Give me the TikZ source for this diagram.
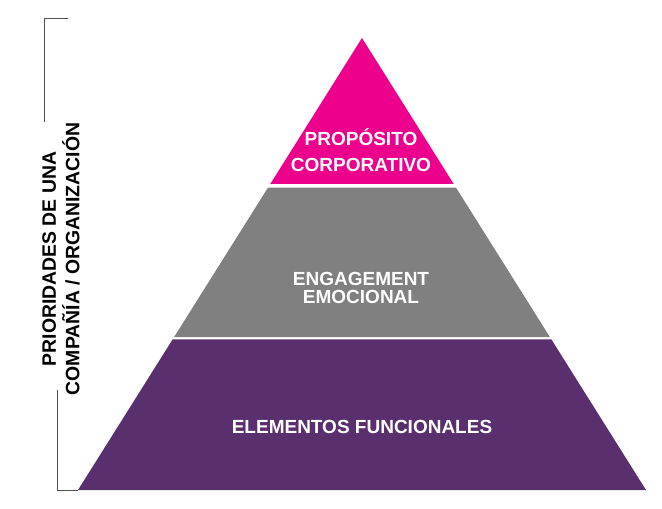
\documentclass[tikz,border=0pt]{standalone}
\usepackage{fontspec}
\setsansfont{Liberation Sans}
\usepackage{xcolor}
\usetikzlibrary{calc, math}
\definecolor{mymagenta}{RGB}{236,0,140}
\definecolor{mygray}{RGB}{128,128,128}
\definecolor{mypurple}{RGB}{90,47,110}
\definecolor{mybracket}{RGB}{80,80,80}

\begin{document}
\begin{tikzpicture}[x=1pt, y=-1pt,
  layertext/.style={text=white, align=center, font=\sffamily\bfseries\fontsize{19}{18.5}\selectfont},
  bracketline/.style={draw=mybracket, line width=1pt}]
\tikzmath{
\H=452;
\ta=(184-38)/\H; \tb=(187.5-38)/\H;
\tc=(337-38)/\H; \td=(339.5-38)/\H;
}
\useasboundingbox (0,0) rectangle (662,509);

\coordinate (apex) at (362,38);
\coordinate (bl) at (78,490);
\coordinate (br) at (646,490);

% layers
\fill[mymagenta] (apex) -- ($(apex)!\ta!(bl)$) -- ($(apex)!\ta!(br)$) -- cycle;
\fill[mygray] ($(apex)!\tb!(bl)$) -- ($(apex)!\tc!(bl)$) -- ($(apex)!\tc!(br)$) -- ($(apex)!\tb!(br)$) -- cycle;
\fill[mypurple] ($(apex)!\td!(bl)$) -- (bl) -- (br) -- ($(apex)!\td!(br)$) -- cycle;

\node[layertext, font=\sffamily\bfseries\fontsize{19}{26}\selectfont] (proposito) at (361,150) {PROPÓSITO\\CORPORATIVO};
\node[layertext] (engagement) at (361,288) {ENGAGEMENT\\EMOCIONAL};
\node[layertext] (funcionales) at (362,427) {ELEMENTOS FUNCIONALES};

% bracket
\coordinate (topend) at (68,18);
\coordinate (topcorner) at (44,18);
\coordinate (topgap) at (44,122);
\coordinate (botgap) at (57,390);
\coordinate (botcorner) at (57,490);
\draw[bracketline] (topend) -- (topcorner) -- (topgap);
\draw[bracketline] (botgap) -- (botcorner) -- (bl);

\node[rotate=90, align=center, font=\sffamily\bfseries\fontsize{19.4}{23.5}\selectfont] (prioridades) at (61,259) {PRIORIDADES DE UNA\\COMPAÑÍA / ORGANIZACIÓN};
\end{tikzpicture}
\end{document}
